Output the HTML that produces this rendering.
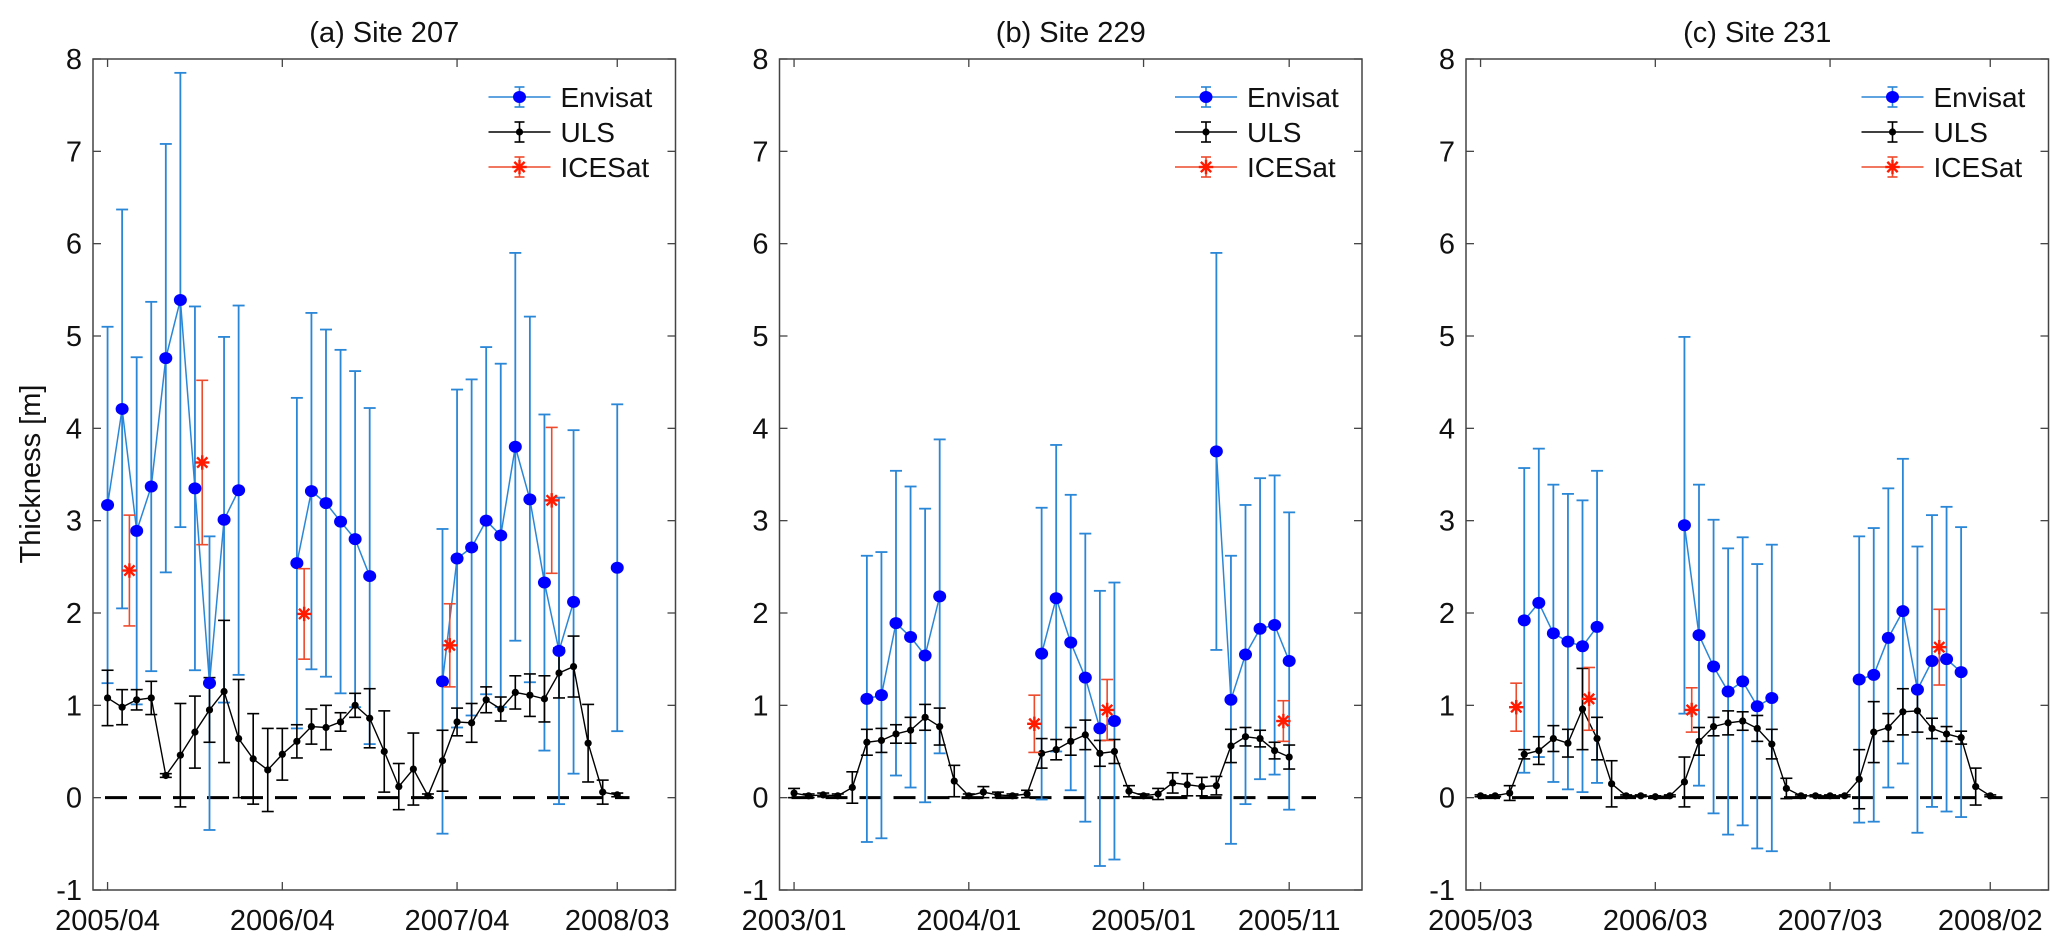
<!DOCTYPE html>
<html><head><meta charset="utf-8"><style>
html,body{margin:0;padding:0;background:#fff}
svg{display:block}
text{font-family:"Liberation Sans",Arial,sans-serif;fill:#111}
</style></head><body>
<svg id="chart" width="2067" height="948" viewBox="0 0 2067 948" xmlns="http://www.w3.org/2000/svg"></svg>
<script>
// ---- data (months from first tick) ----
const titles = ["(a) Site 207","(b) Site 229","(c) Site 231"];
const tickMonths = [[0,12,24,35],[0,12,24,34],[0,12,24,35]];
const tickLabels = [["2005/04","2006/04","2007/04","2008/03"],["2003/01","2004/01","2005/01","2005/11"],["2005/03","2006/03","2007/03","2008/02"]];
const yTicks = [-1,0,1,2,3,4,5,6,7,8];

const ulsA = [1.08,0.98,1.06,1.08,0.24,0.46,0.71,0.95,1.15,0.64,0.42,0.30,0.47,0.61,0.77,0.76,0.82,1.00,0.86,0.50,0.12,0.31,0.02,0.40,0.82,0.81,1.06,0.96,1.14,1.11,1.07,1.35,1.42,0.59,0.06,0.03];
const ulsErrA = [0.30,0.19,0.11,0.18,0.02,0.56,0.39,0.35,0.77,0.64,0.49,0.45,0.28,0.18,0.19,0.24,0.10,0.13,0.32,0.44,0.25,0.39,0.02,0.33,0.15,0.21,0.14,0.13,0.18,0.23,0.25,0.27,0.33,0.42,0.13,0.02];
const envA = [3.17,4.21,2.89,3.37,4.76,5.39,3.35,1.24,3.01,3.33,null,null,null,2.54,3.32,3.19,2.99,2.80,2.40,null,null,null,null,1.26,2.59,2.71,3.00,2.84,3.80,3.23,2.33,1.59,2.12,null,null,2.49];
const envErrA = [1.93,2.16,1.88,2.0,2.32,2.46,1.97,1.59,1.98,2.0,0,0,0,1.79,1.93,1.88,1.86,1.82,1.82,0,0,0,0,1.65,1.83,1.82,1.88,1.86,2.1,1.98,1.82,1.66,1.86,0,0,1.77];
const iceMA = [1.5,6.5,13.5,23.5,30.5];
const iceA = [2.46,3.63,1.99,1.65,3.22];
const iceErrA = [0.60,0.89,0.49,0.45,0.79];

const ulsB = [0.05,0.02,0.03,0.02,0.11,0.60,0.62,0.69,0.73,0.87,0.77,0.18,0.02,0.06,0.03,0.02,0.04,0.48,0.52,0.61,0.68,0.48,0.50,0.07,0.02,0.04,0.16,0.14,0.12,0.13,0.56,0.66,0.64,0.51,0.44];
const ulsErrB = [0.05,0.02,0.02,0.02,0.17,0.14,0.13,0.10,0.14,0.14,0.20,0.17,0.02,0.06,0.03,0.02,0.04,0.16,0.11,0.15,0.16,0.14,0.13,0.06,0.02,0.06,0.11,0.12,0.10,0.10,0.18,0.10,0.09,0.09,0.13];
const envB = [null,null,null,null,null,1.07,1.11,1.89,1.74,1.54,2.18,null,null,null,null,null,null,1.56,2.16,1.68,1.30,0.75,0.83,null,null,null,null,null,null,3.75,1.06,1.55,1.83,1.87,1.48];
const envErrB = [0,0,0,0,0,1.55,1.55,1.65,1.63,1.59,1.70,0,0,0,0,0,0,1.58,1.66,1.6,1.56,1.49,1.5,0,0,0,0,0,0,2.15,1.56,1.62,1.63,1.62,1.61];
const iceMB = [16.5,21.5,33.6];
const iceB = [0.80,0.95,0.83];
const iceErrB = [0.31,0.33,0.22];

const ulsC = [0.02,0.02,0.05,0.47,0.51,0.64,0.59,0.96,0.64,0.15,0.02,0.02,0.01,0.02,0.17,0.61,0.77,0.81,0.83,0.75,0.58,0.10,0.02,0.02,0.02,0.02,0.20,0.71,0.76,0.93,0.94,0.75,0.69,0.65,0.12,0.02];
const ulsErrC = [0.01,0.01,0.08,0.05,0.15,0.14,0.15,0.44,0.23,0.25,0.01,0.01,0.01,0.01,0.27,0.15,0.10,0.13,0.10,0.14,0.16,0.11,0.01,0.01,0.01,0.01,0.32,0.33,0.15,0.25,0.23,0.11,0.08,0.07,0.20,0.01];
const envC = [null,null,null,1.92,2.11,1.78,1.69,1.64,1.85,null,null,null,null,null,2.95,1.76,1.42,1.15,1.26,0.99,1.08,null,null,null,null,null,1.28,1.33,1.73,2.02,1.17,1.48,1.50,1.36];
const envErrC = [0,0,0,1.65,1.67,1.61,1.6,1.58,1.69,0,0,0,0,0,2.04,1.63,1.59,1.55,1.56,1.54,1.66,0,0,0,0,0,1.55,1.59,1.62,1.65,1.55,1.58,1.65,1.57];
const iceMC = [2.45,7.45,14.5,31.5];
const iceC = [0.98,1.07,0.95,1.63];
const iceErrC = [0.26,0.34,0.24,0.41];

const panels = [
 {uls:ulsA,ulsErr:ulsErrA,env:envA,envErr:envErrA,iceM:iceMA,ice:iceA,iceErr:iceErrA},
 {uls:ulsB,ulsErr:ulsErrB,env:envB,envErr:envErrB,iceM:iceMB,ice:iceB,iceErr:iceErrB},
 {uls:ulsC,ulsErr:ulsErrC,env:envC,envErr:envErrC,iceM:iceMC,ice:iceC,iceErr:iceErrC}
];

const NS="http://www.w3.org/2000/svg";
const svg=document.getElementById('chart');
const lefts=[93,779.5,1466], W=582.5, TOP=59, BOT=890;
const ENVL="#2a86d6", ENVM="#0000ff", ICEC="#ee4a2c", STAR="#ff1a00";
function mk(tag,attrs,parent){const e=document.createElementNS(NS,tag);for(const k in attrs)e.setAttribute(k,attrs[k]);(parent||svg).appendChild(e);return e;}
function star(cx,cy,parent){
  const sg=mk('g',{stroke:STAR,'stroke-width':2.4,'stroke-linecap':'square'},parent);
  const r=6, d=4.3;
  mk('line',{x1:cx-r,x2:cx+r,y1:cy,y2:cy},sg);
  mk('line',{x1:cx,x2:cx,y1:cy-r,y2:cy+r},sg);
  mk('line',{x1:cx-d,x2:cx+d,y1:cy-d,y2:cy+d},sg);
  mk('line',{x1:cx-d,x2:cx+d,y1:cy+d,y2:cy-d},sg);
  return sg;
}

panels.forEach((p,pi)=>{
  const L=lefts[pi];
  const g=mk('g',{});
  
  
  const xs=m=>L+(m+1)*W/40;
  const ys=v=>TOP+(8-v)*(BOT-TOP)/9;
  const box=mk('rect',{x:L,y:TOP,width:W,height:BOT-TOP,fill:'none',stroke:'#444','stroke-width':1.5},g);
  
  
  const t=mk('text',{x:L+W/2,y:42,'text-anchor':'middle','font-size':29},g);t.textContent=titles[pi];
  
  
  yTicks.forEach(v=>{
    const y=ys(v);
    mk('line',{x1:L,x2:L+8,y1:y,y2:y,stroke:'#444','stroke-width':1.3},g);
    mk('line',{x1:L+W,x2:L+W-8,y1:y,y2:y,stroke:'#444','stroke-width':1.3},g);
    const tl=mk('text',{x:L-11,y:y+10,'text-anchor':'end','font-size':29},g);tl.textContent=v;
    
    
  });
  tickMonths[pi].forEach((m,i)=>{
    const x=xs(m);
    mk('line',{x1:x,x2:x,y1:BOT,y2:BOT-8,stroke:'#444','stroke-width':1.3},g);
    mk('line',{x1:x,x2:x,y1:TOP,y2:TOP+8,stroke:'#444','stroke-width':1.3},g);
    const tl=mk('text',{x:x,y:930,'text-anchor':'middle','font-size':29},g);tl.textContent=tickLabels[pi][i];
    
    
  });
  const z=mk('line',{x1:L+12,x2:L+W-46,y1:ys(0),y2:ys(0),stroke:'#000','stroke-width':3,'stroke-dasharray':'22 12'},g);
  
  
  const ebar=(x,v,e,col,w,name)=>{
    const eg=mk('g',{stroke:col,'stroke-width':w},g);
    
    
    mk('line',{x1:x,x2:x,y1:ys(v-e),y2:ys(v+e)},eg);
    mk('line',{x1:x-6,x2:x+6,y1:ys(v-e),y2:ys(v-e)},eg);
    mk('line',{x1:x-6,x2:x+6,y1:ys(v+e),y2:ys(v+e)},eg);
  };
  p.env.forEach((v,m)=>{ if(v!==null) ebar(xs(m),v,p.envErr[m],ENVL,1.8,'envisat-error-bar'); });
  let seg=[];
  const flush=()=>{ if(seg.length>1){const pl=mk('polyline',{points:seg.join(' '),fill:'none',stroke:ENVL,'stroke-width':1.5},g);
      
      } seg=[]; };
  p.env.forEach((v,m)=>{ if(v===null) flush(); else seg.push(xs(m)+','+ys(v)); }); flush();
  p.uls.forEach((v,m)=>ebar(xs(m),v,p.ulsErr[m],'#000',1.6,'uls-error-bar'));
  const ul=mk('polyline',{points:p.uls.map((v,m)=>xs(m)+','+ys(v)).join(' '),fill:'none',stroke:'#000','stroke-width':1.4},g);
  
  
  p.uls.forEach((v,m)=>{const c=mk('circle',{cx:xs(m),cy:ys(v),r:3.6,fill:'#000'},g);
    
    });
  p.env.forEach((v,m)=>{ if(v!==null){const c=mk('ellipse',{cx:xs(m),cy:ys(v),rx:6.5,ry:6,fill:ENVM},g);
    
    }});
  p.ice.forEach((v,i)=>{
    const x=xs(p.iceM[i]);
    ebar(x,v,p.iceErr[i],ICEC,1.6,'icesat-error-bar');
    const s=star(x,ys(v),g);
    
    
  });
  const lg=mk('g',{},g);
  
  
  const lx=L+W-187, names=['Envisat','ULS','ICESat'], cols=[ENVL,'#000',ICEC];
  names.forEach((n,i)=>{
    const y=97+i*35;
    const eg=mk('g',{},lg);
    
    
    mk('line',{x1:lx,x2:lx+62,y1:y,y2:y,stroke:cols[i],'stroke-width':1.5},eg);
    mk('line',{x1:lx+31,x2:lx+31,y1:y-10,y2:y+10,stroke:cols[i],'stroke-width':1.6},eg);
    mk('line',{x1:lx+26,x2:lx+36,y1:y-10,y2:y-10,stroke:cols[i],'stroke-width':1.6},eg);
    mk('line',{x1:lx+26,x2:lx+36,y1:y+10,y2:y+10,stroke:cols[i],'stroke-width':1.6},eg);
    if(i===0) mk('ellipse',{cx:lx+31,cy:y,rx:6.5,ry:6,fill:ENVM},eg);
    if(i===1) mk('circle',{cx:lx+31,cy:y,r:3.6,fill:'#000'},eg);
    if(i===2) star(lx+31,y,eg);
    const tx=mk('text',{x:lx+72,y:y+10,'font-size':28},eg);tx.textContent=n;
  });
});
const yt=mk('text',{x:0,y:0,'text-anchor':'middle','font-size':29,transform:'translate(40,474) rotate(-90)'});
yt.textContent='Thickness [m]';


</script>
</body></html>
